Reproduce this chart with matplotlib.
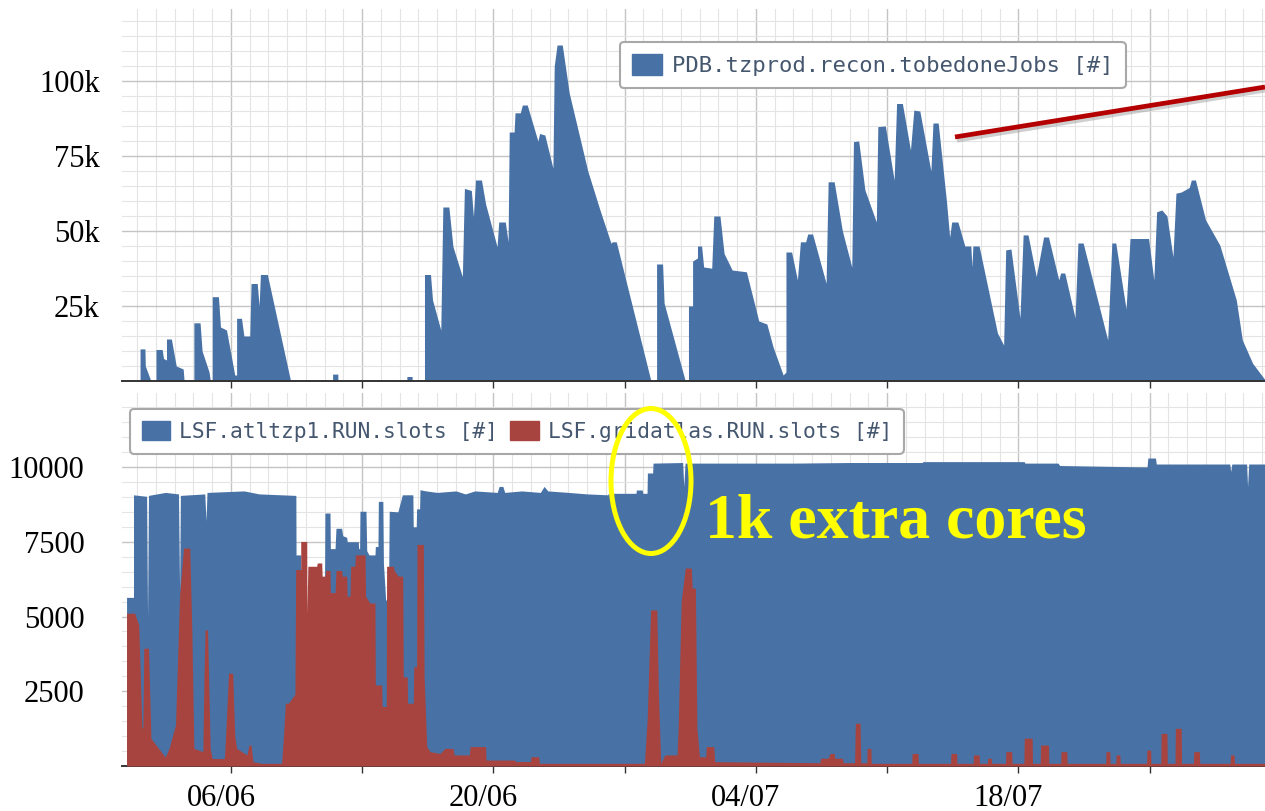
"""
Tier-0 reconstruction backlog vs. LSF running slots, June-July.
"""

import numpy as np
import pandas as pd
import matplotlib
matplotlib.use("Agg")
import matplotlib.pyplot as plt
from matplotlib.patches import Patch, Ellipse
from matplotlib.lines import Line2D
from matplotlib.ticker import MultipleLocator
from matplotlib.transforms import ScaledTranslation
import matplotlib.dates as mdates

# --- Global Constants ---
START = pd.Timestamp("2012-06-01")
BLUE = "#4872a6"
RED = "#a8443f"
LEGEND_TEXT = "#45576f"
W, H = 1265, 811  # output size, pixels

# --- Top panel: PDB.tzprod.recon.tobedoneJobs (days since START, thousands of jobs) ---
jobs_day = [-0.81, 0.15, 0.15, 0.41, 0.43, 0.73,
            1.0, 1.0, 1.33, 1.4, 1.56, 1.56, 1.82, 2.08, 2.45, 2.5,
            3.02, 3.02, 3.35, 3.46, 3.83, 3.9,
            4.0, 4.0, 4.33, 4.44, 4.76, 5.2,
            5.3, 5.3, 5.56, 5.69, 6.0, 6.07, 6.4, 6.5, 6.57, 6.94, 8.18,
            10.42, 10.42, 10.7, 10.7,
            14.38, 14.38, 14.66, 14.66,
            15.32, 15.32, 15.64, 15.75, 16.19, 16.3, 16.62, 16.84, 17.34, 17.45,
            17.82, 17.93, 18.04, 18.36, 18.58, 19.19, 19.28, 19.63, 19.78, 19.84,
            20.1, 20.15, 20.43, 20.54, 20.8, 21.37, 21.46, 21.74, 22.17, 22.24,
            22.39, 22.67, 23.04, 24.03, 24.68, 25.27, 25.33, 25.55, 27.4,
            27.7, 27.7, 28.02, 28.1, 29.23,
            29.4, 29.4, 29.62, 29.62, 29.88, 29.88, 30.1, 30.21, 30.64, 30.75,
            31.08, 31.3, 31.73, 32.49, 33.15, 33.58, 33.91, 34.45, 34.6,
            34.6, 34.9, 35.21, 35.37, 35.65, 35.76, 36.02, 36.74, 36.85, 37.17,
            37.61, 38.11, 38.2, 38.48, 38.81, 39.42, 39.5, 39.9, 40.37, 40.5,
            40.81, 41.24, 41.42, 41.74, 42.33, 42.44, 42.72, 43.16, 43.33, 43.44,
            43.77, 44.14, 44.46, 44.52, 44.57, 44.9, 45.88, 46.21,
            46.32, 46.6, 47.08, 47.25, 47.51, 47.95, 48.34, 48.6, 49.15, 49.25,
            49.47, 50.02, 50.17, 50.45, 51.76, 51.98, 52.19, 52.74, 52.95, 53.94,
            54.22, 54.37, 54.65, 54.92, 55.24, 55.4, 55.68, 56.11, 56.22, 56.44,
            56.98, 57.74, 58.62, 58.94, 59.49, 60.2]
jobs_k = [0, 0, 10.7, 10.7, 5, 0,
          0, 10.5, 10.5, 7.5, 7, 14, 14, 5, 4, 0,
          0, 19.4, 19.4, 10, 3, 0,
          0, 28.1, 28.1, 18, 17, 2,
          2, 20.9, 20.9, 15, 15, 32.5, 32.5, 25, 35.5, 35.5, 0,
          0, 2.3, 2.3, 0,
          0, 1.5, 1.5, 0,
          0, 35.5, 35.5, 27, 17, 58, 58, 44.8, 34.8, 64.2,
          63.5, 54.8, 67, 67, 59, 44.8, 53, 53, 46.4, 83,
          83, 89.4, 89.4, 92, 92, 80, 82.5, 82, 71, 105,
          112, 112, 96, 70, 57, 45.9, 46.4, 46.4, 0,
          0, 39, 39, 26, 0,
          0, 25, 25, 40, 41, 45, 45, 38, 37.6, 55,
          55, 42.5, 37, 36.4, 20, 19, 11.4, 2, 3,
          43, 43, 33.7, 46.4, 46.4, 49, 49, 32.6, 66.4, 66.4,
          50, 38, 79.8, 80, 63.7, 53, 84.8, 85, 67, 92.5,
          92.5, 77, 90.3, 90, 70, 86, 86, 60, 48, 53,
          53, 45, 45, 38, 45, 45, 16, 12,
          43.7, 44, 21, 48.7, 48.7, 34.8, 48, 48, 33.7, 36,
          36, 21, 46, 46, 13.7, 46, 46, 24, 47.5, 47.5,
          33.7, 56.4, 57, 55, 41.4, 62.6, 63, 64.5, 67, 67,
          53.7, 45.3, 27, 13.7, 5.9, 0]

# --- Bottom panel: LSF.atltzp1.RUN.slots ---
atl_day = [-0.57, -0.2, -0.2, 0.5, 0.55, 0.6, 1.5, 2.2, 2.26, 2.3,
           3.6, 3.67, 3.72, 5.7, 6.5, 8.46, 8.47, 8.72, 8.74, 9.98,
           10.01, 10.28, 10.3, 10.55, 10.6, 10.9, 10.96, 11.17, 11.2, 11.79,
           11.81, 11.86, 11.88, 12.2, 12.24, 12.36, 12.68, 12.7, 12.84, 12.86,
           13.1, 13.13, 13.25, 13.4, 13.44, 13.9, 14.14, 14.7, 14.72, 14.88,
           14.9, 15.06, 15.08, 15.4, 16.0, 17.0, 17.5, 18.0, 19.2, 19.3,
           19.5, 19.6, 20.5, 21.5, 21.7, 21.9, 23.0, 24.0, 25.1, 25.13,
           26.6, 26.62, 26.94, 26.96, 27.19, 27.21, 27.49, 27.51, 29.09, 29.15,
           29.22, 35.0, 38.0, 41.87, 41.9, 47.3, 47.35, 49.11, 49.2, 53.86,
           53.9, 54.31, 54.35, 58.27, 58.32, 58.38, 59.17, 59.22, 59.28, 60.2]
atl_slots = [5640, 5640, 9070, 9020, 5000, 9050, 9150, 9100, 5800, 9050,
             9100, 8200, 9150, 9200, 9100, 9050, 7060, 7060, 5000, 5000,
             8460, 8460, 7270, 7270, 7950, 7950, 7700, 7650, 7500, 7500,
             7270, 7270, 8520, 8520, 7200, 7060, 7060, 7340, 7340, 8850,
             8850, 6790, 5550, 5550, 8520, 8500, 9070, 9070, 8000, 8000,
             8600, 8600, 9240, 9200, 9150, 9200, 9100, 9200, 9150, 9350,
             9350, 9150, 9200, 9150, 9350, 9200, 9150, 9100, 9070, 9120,
             9120, 9230, 9230, 9120, 9120, 9800, 9800, 10130, 10150, 9350,
             10130, 10130, 10150, 10150, 10180, 10180, 10130, 10130, 10050, 10000,
             10300, 10300, 10100, 10100, 9850, 10100, 10100, 9350, 10100, 10100]

# --- Bottom panel: LSF.gridatlas.RUN.slots ---
grid_day = [-0.57, -0.14, 0.08, 0.25, 0.3, 0.35, 0.6, 0.73, 1.0, 1.49,
            1.7, 2.04, 2.26, 2.47, 2.8, 2.91, 3.02, 3.5, 3.56, 3.62,
            3.75, 3.89, 4.0, 4.65, 4.75, 4.87, 5.09, 5.2, 5.3, 5.85,
            5.96, 6.07, 6.17, 6.61, 7.7, 7.79, 7.9, 8.06, 8.41, 8.45,
            8.72, 8.72, 9.04, 9.05, 9.1, 9.57, 9.6, 9.84, 9.86, 10.01,
            10.05, 10.28, 10.3, 10.55, 10.6, 10.9, 10.93, 11.17, 11.2, 11.35,
            11.38, 11.61, 11.63, 12.15, 12.18, 12.41, 12.68, 12.7, 13.04, 13.06,
            13.28, 13.3, 13.66, 13.7, 13.92, 14.16, 14.19, 14.4, 14.42, 14.72,
            14.75, 14.9, 14.92, 15.26, 15.3, 15.44, 15.62, 16.15, 16.41, 16.84,
            16.9, 17.71, 17.75, 18.58, 18.6, 20.11, 20.2, 20.98, 21.0, 21.41,
            21.45, 27.05, 27.2, 27.38, 27.71, 27.8, 27.92, 28.14, 28.79, 28.85,
            29.01, 29.23, 29.55, 29.6, 29.77, 29.85, 29.99, 30.32, 30.35, 30.75,
            30.8, 36.41, 36.45, 36.85, 36.95, 37.17, 37.2, 37.61, 37.65, 38.26,
            38.3, 38.55, 38.59, 38.91, 38.93, 39.13, 39.15, 41.31, 41.33, 41.64,
            41.66, 43.38, 43.4, 43.7, 43.72, 44.58, 44.6, 44.9, 44.92, 45.34,
            45.36, 45.55, 45.57, 46.31, 46.33, 46.64, 46.66, 47.29, 47.31, 47.73,
            47.75, 48.16, 48.18, 48.6, 48.62, 49.25, 49.27, 49.58, 49.6, 51.65,
            51.67, 51.87, 51.89, 52.19, 52.21, 52.41, 52.43, 53.83, 53.85, 54.05,
            54.07, 54.59, 54.61, 54.92, 54.94, 55.35, 55.37, 55.68, 55.7, 56.33,
            56.35, 56.65, 56.67, 58.29, 58.31, 58.5, 58.52, 60.2]
grid_slots = [5110, 5110, 4720, 1260, 1300, 3940, 3940, 926, 700, 300,
              600, 1370, 5725, 7290, 7290, 4600, 590, 480, 3000, 4550,
              4550, 590, 250, 250, 1500, 3100, 3100, 1000, 590, 370,
              700, 700, 145, 90, 90, 900, 2100, 2100, 2400, 6570,
              6570, 7510, 7510, 5110, 6680, 6680, 6790, 6790, 6350, 6350,
              6540, 6540, 5800, 5800, 6540, 6540, 6350, 6350, 5680, 5680,
              6680, 6680, 7060, 7060, 5680, 5450, 5450, 2710, 2710, 1990,
              1990, 6680, 6680, 6540, 6350, 6350, 2980, 2980, 2100, 2100,
              3320, 3320, 7410, 7410, 3000, 650, 480, 420, 590, 590,
              370, 370, 650, 650, 200, 200, 150, 150, 310, 310,
              90, 90, 1600, 5220, 5220, 2380, 90, 370, 370, 1260,
              5500, 6620, 6620, 5950, 5950, 1260, 310, 310, 650, 650,
              145, 110, 260, 260, 420, 420, 260, 260, 110, 110,
              1430, 1430, 110, 110, 590, 590, 90, 90, 420, 420,
              90, 90, 420, 420, 90, 90, 370, 370, 90, 90,
              260, 260, 90, 90, 480, 480, 90, 90, 930, 930,
              90, 90, 700, 700, 90, 90, 480, 480, 90, 90,
              480, 480, 90, 90, 370, 370, 90, 90, 535, 535,
              90, 90, 1090, 1090, 90, 90, 1260, 1260, 90, 90,
              480, 480, 90, 90, 370, 370, 90, 90]

# --- Axis ticks and labels ---
tick_days = [5, 12, 19, 26, 33, 40, 47, 54]
tick_labels = ["06/06", "", "20/06", "", "04/07", "", "18/07", ""]
top_yticks = [25000, 50000, 75000, 100000]
top_ylabels = ["25k", "50k", "75k", "100k"]
bot_yticks = [2500, 5000, 7500, 10000]
bot_ylabels = ["2500", "5000", "7500", "10000"]
x_range_days = [-0.813, 60.15]


def to_dates(days):
    """Days since START -> numpy datetime64 array."""
    return (START + pd.to_timedelta(np.asarray(days, dtype=float), unit="D")).to_numpy()


def style_axes(ax, minor_y):
    ax.set_facecolor("white")
    ax.set_axisbelow(True)
    ax.set_xlim(to_dates(x_range_days))
    ax.set_xticks(to_dates(tick_days))
    ax.xaxis.set_minor_locator(mdates.DayLocator())
    ax.yaxis.set_minor_locator(MultipleLocator(minor_y))
    ax.grid(which="major", color="#c4c4c4", lw=1.0)
    ax.grid(which="minor", color="#e4e4e4", lw=0.8)
    for side in ("top", "right", "left"):
        ax.spines[side].set_visible(False)
    ax.spines["bottom"].set_color("#333333")
    ax.spines["bottom"].set_linewidth(1.4)
    ax.tick_params(axis="x", which="major", length=5, width=1, color="#333333")
    ax.tick_params(axis="both", which="minor", length=0)
    ax.tick_params(axis="y", which="major", length=0)


fig = plt.figure(figsize=(W / 100, H / 100), dpi=100)
fig.patch.set_facecolor("white")

# --- 1. Top panel ---
ax_top = fig.add_axes([122 / W, 1 - 381 / H, 1 - 122 / W, 372 / H])
style_axes(ax_top, 5000)
ax_top.fill_between(to_dates(jobs_day), 0, np.array(jobs_k) * 1000, color=BLUE, lw=0)
ax_top.set_ylim(0, 124000)
ax_top.set_yticks(top_yticks)
ax_top.set_yticklabels(top_ylabels, family="Liberation Serif", fontsize=22)
ax_top.tick_params(axis="y", pad=16)
ax_top.set_xticklabels([])

leg = ax_top.legend(handles=[Patch(facecolor=BLUE, edgecolor=BLUE,
                                   label="PDB.tzprod.recon.tobedoneJobs [#]")],
                    loc="upper left", bbox_to_anchor=(0.4357, 0.9113), borderaxespad=0,
                    prop={"family": "DejaVu Sans Mono", "size": 16},
                    frameon=True, fancybox=True, framealpha=1,
                    edgecolor="#a8a8a8", facecolor="white",
                    borderpad=0.55, handlelength=1.35, handleheight=1.05,
                    handletextpad=0.45, labelcolor=LEGEND_TEXT)
leg.get_frame().set_linewidth(1.5)

# --- 2. Bottom panel ---
ax_bot = fig.add_axes([122 / W, 1 - 766 / H, 1 - 122 / W, 373 / H])
style_axes(ax_bot, 500)
ax_bot.fill_between(to_dates(atl_day), 0, atl_slots, color=BLUE, lw=0, zorder=2)
ax_bot.fill_between(to_dates(grid_day), 0, grid_slots, color=RED, lw=0, zorder=3)
ax_bot.set_ylim(0, 12475)
ax_bot.set_yticks(bot_yticks)
ax_bot.set_yticklabels(bot_ylabels, family="Liberation Serif", fontsize=22)
ax_bot.tick_params(axis="y", pad=27)
ax_bot.set_xticklabels(tick_labels, family="Liberation Serif", fontsize=22)
ax_bot.tick_params(axis="x", pad=8)
shift = ScaledTranslation(-10 / 100, 0, fig.dpi_scale_trans)
for lab in ax_bot.get_xticklabels():
    lab.set_transform(lab.get_transform() + shift)

leg2 = ax_bot.legend(handles=[Patch(facecolor=BLUE, edgecolor=BLUE, label="LSF.atltzp1.RUN.slots [#]"),
                              Patch(facecolor=RED, edgecolor=RED, label="LSF.gridatlas.RUN.slots [#]")],
                     loc="upper left", bbox_to_anchor=(0.007, 0.957), borderaxespad=0, ncol=2,
                     prop={"family": "DejaVu Sans Mono", "size": 15.3},
                     frameon=True, fancybox=True, framealpha=1,
                     edgecolor="#a8a8a8", facecolor="white",
                     borderpad=0.55, handlelength=1.35, handleheight=1.05,
                     handletextpad=0.4, columnspacing=0.6, labelcolor=LEGEND_TEXT)
leg2.get_frame().set_linewidth(1.5)
leg2.set_zorder(5)

# --- 3. Slide annotations ---
fig.add_artist(Line2D([957 / W, 1.0], [1 - 140 / H, 1 - 90 / H], color="#888888",
                      alpha=0.4, lw=3.6, solid_capstyle="butt"))
fig.add_artist(Line2D([955 / W, 1.0], [1 - 137 / H, 1 - 87 / H], color="#b40000",
                      lw=3.4, solid_capstyle="butt"))
fig.add_artist(Ellipse((651 / W, 1 - 481 / H), 80 / W, 145 / H, fill=False,
                       edgecolor="#ffff00", lw=3.6, transform=fig.transFigure))
fig.text(705 / W, 1 - 538 / H, "1k extra cores", color="#ffff00", fontsize=46,
         fontweight="bold", family="Liberation Serif", ha="left", va="baseline")

fig.savefig("out.png", dpi=100)
plt.close(fig)
